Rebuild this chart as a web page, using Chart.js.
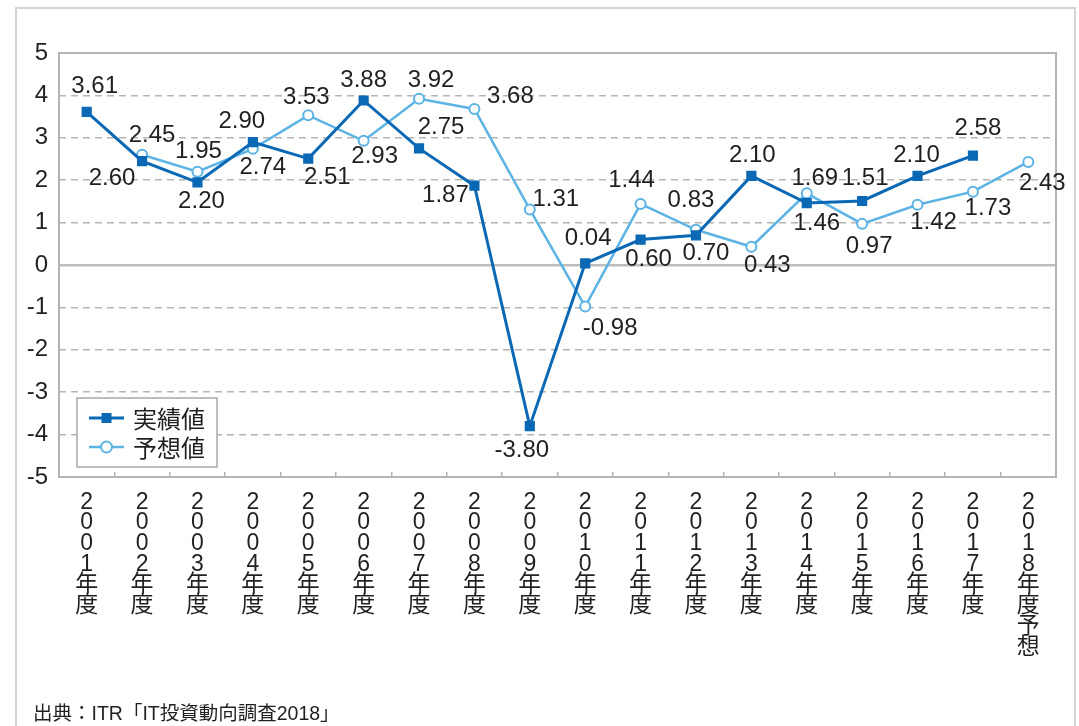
<!DOCTYPE html>
<html>
<head>
<meta charset="utf-8">
<script src="https://cdn.jsdelivr.net/npm/chart.js@4.4.1/dist/chart.umd.min.js"></script>
<style>
  html, body { margin: 0; padding: 0; background: #fff; overflow: hidden; }
  #wrap { position: relative; width: 1079px; height: 726px; }
  #frame { position: absolute; left: 15px; top: 7px; width: 1057px; height: 760px; border: 2px solid #d4d4d4; }
  #source { position: absolute; left: 33px; top: 697px; font: 19.5px "Liberation Sans", "Noto Sans CJK JP", sans-serif; color: #231f20; white-space: nowrap; }
  canvas { position: absolute; left: 0; top: 0; }
</style>
</head>
<body>
<div id="wrap">
  <div id="frame"></div>
  <canvas id="chart" width="1079" height="726"></canvas>
  <div id="source">出典：ITR「IT投資動向調査2018」</div>
</div>
<script>
// 年度
const years = ['2001','2002','2003','2004','2005','2006','2007','2008','2009',
               '2010','2011','2012','2013','2014','2015','2016','2017','2018'];
const suffixes = ['年度','年度','年度','年度','年度','年度','年度','年度','年度',
                  '年度','年度','年度','年度','年度','年度','年度','年度','年度予想'];

// 実績値 / 予想値 (%)
const actual   = [3.61, 2.45, 1.95, 2.90, 2.51, 3.88, 2.75, 1.87, -3.80,
                  0.04, 0.60, 0.70, 2.10, 1.46, 1.51, 2.10, 2.58, null];
const forecast = [null, 2.60, 2.20, 2.74, 3.53, 2.93, 3.92, 3.68, 1.31,
                  -0.98, 1.44, 0.83, 0.43, 1.69, 0.97, 1.42, 1.73, 2.43];

const yTicks = [-5, -4, -3, -2, -1, 0, 1, 2, 3, 4, 5];

// where each value label sits, relative to its point (px)
const actualLabelPos = [[8,-26],[10,-26],[1,-31],[-11,-21],[19,19],[0,-20],[22,-21],[-29,10],[-8,24],
                        [3,-25],[8,20],[10,18],[1,-21],[10,20],[3,-23],[-1,-21],[5,-27],null];
const forecastLabelPos = [null,[-30,24],[4,30],[10,19],[-2,-18],[11,16],[12,-18],[36,-13],[26,-10],
                          [25,22],[-9,-24],[-5,-29],[16,19],[8,-15],[7,23],[16,18],[15,17],[14,21]];

const darkBlue = '#0a68b4';
const lightBlue = '#5cb3e4';
const textColor = '#231f20';
const numFont = '"Liberation Sans", Arial, sans-serif';
const jpFont = '"Liberation Sans", "Noto Sans CJK JP", sans-serif';

const labels = years.map((y, i) => (y + suffixes[i]).split(''));

// value labels next to the points
const valueLabels = {
  id: 'valueLabels',
  afterDatasetsDraw(chart) {
    const ctx = chart.ctx;
    const offsets = [actualLabelPos, forecastLabelPos];
    ctx.save();
    ctx.font = '24px ' + numFont;
    ctx.fillStyle = textColor;
    ctx.textAlign = 'center';
    ctx.textBaseline = 'middle';
    chart.data.datasets.forEach((ds, d) => {
      const meta = chart.getDatasetMeta(d);
      ds.data.forEach((v, i) => {
        if (v === null || !offsets[d][i]) return;
        const pt = meta.data[i];
        ctx.fillText(v.toFixed(2), pt.x + offsets[d][i][0], pt.y + offsets[d][i][1]);
      });
    });
    ctx.restore();
  }
};

// plot frame + legend box inside the plot
const frameAndLegend = {
  id: 'frameAndLegend',
  beforeDatasetsDraw(chart) {
    const {ctx, chartArea: a} = chart;
    ctx.save();
    ctx.strokeStyle = '#b4b4b4';
    ctx.lineWidth = 2;
    ctx.strokeRect(a.left, a.top, a.right - a.left, a.bottom - a.top);
    ctx.restore();
  },
  afterDatasetsDraw(chart) {
    const {ctx, chartArea: a} = chart;
    const bx = a.left + 18, by = a.bottom - 79, bw = 140, bh = 69;
    ctx.save();
    ctx.fillStyle = '#fff';
    ctx.fillRect(bx, by, bw, bh);
    ctx.strokeStyle = '#a8a8a8';
    ctx.lineWidth = 1.5;
    ctx.strokeRect(bx, by, bw, bh);
    const rows = [
      {text: '実績値', color: darkBlue, width: 3, square: true},
      {text: '予想値', color: lightBlue, width: 2.5, square: false}
    ];
    rows.forEach((r, k) => {
      const cy = by + 20 + k * 29;
      ctx.strokeStyle = r.color;
      ctx.lineWidth = r.width;
      ctx.beginPath();
      ctx.moveTo(bx + 12, cy);
      ctx.lineTo(bx + 47, cy);
      ctx.stroke();
      if (r.square) {
        ctx.fillStyle = r.color;
        ctx.fillRect(bx + 24.5, cy - 5, 10, 10);
      } else {
        ctx.fillStyle = '#fff';
        ctx.lineWidth = 2;
        ctx.beginPath();
        ctx.arc(bx + 29.5, cy, 5.5, 0, Math.PI * 2);
        ctx.fill();
        ctx.stroke();
      }
      ctx.fillStyle = textColor;
      ctx.font = '24px "Noto Sans CJK JP", sans-serif';
      ctx.textAlign = 'left';
      ctx.textBaseline = 'middle';
      ctx.fillText(r.text, bx + 56, cy + 1);
    });
    ctx.restore();
  }
};

const chart = new Chart(document.getElementById('chart'), {
  type: 'line',
  data: {
    labels: labels,
    datasets: [{
      label: '実績値',
      data: actual,
      borderColor: darkBlue,
      backgroundColor: darkBlue,
      borderWidth: 3,
      pointStyle: 'rect',
      pointRadius: 7.2,
      pointBorderWidth: 0,
      tension: 0
    }, {
      label: '予想値',
      data: forecast,
      borderColor: lightBlue,
      backgroundColor: '#fff',
      borderWidth: 2.5,
      pointStyle: 'circle',
      pointRadius: 5,
      pointBorderWidth: 2,
      tension: 0
    }]
  },
  options: {
    responsive: false,
    animation: false,
    layout: { padding: { top: 53, right: 23, left: 0, bottom: 0 } },
    plugins: {
      legend: { display: false },
      tooltip: { enabled: false }
    },
    scales: {
      x: {
        offset: true,
        afterFit(scale) { scale.height = 249; },
        grid: {
          offset: true,
          drawOnChartArea: false,
          drawTicks: true,
          tickLength: -5,
          color: '#b4b4b4',
          lineWidth: 1.5
        },
        border: { display: false },
        ticks: {
          autoSkip: false,
          maxRotation: 0,
          minRotation: 0,
          padding: 20,
          color: textColor,
          font: { family: jpFont, size: 23, lineHeight: 0.9 }
        }
      },
      y: {
        min: -5,
        max: 5,
        afterFit(scale) { scale.width = 59; },
        afterBuildTicks(scale) { scale.ticks = yTicks.map(v => ({value: v})); },
        grid: {
          drawTicks: false,
          color: ctx => ctx.tick && ctx.tick.value === 0 ? '#bdbdbd' : '#b4b4b4',
          lineWidth: ctx => ctx.tick && ctx.tick.value === 0 ? 2.5 : 1.5
        },
        border: {
          display: false,
          dash: ctx => (ctx.tick && Math.abs(ctx.tick.value) % 5 !== 0) ? [7, 5] : []
        },
        ticks: {
          padding: 11,
          color: textColor,
          font: { family: numFont, size: 24 }
        }
      }
    }
  },
  plugins: [frameAndLegend, valueLabels]
});
</script>
</body>
</html>
